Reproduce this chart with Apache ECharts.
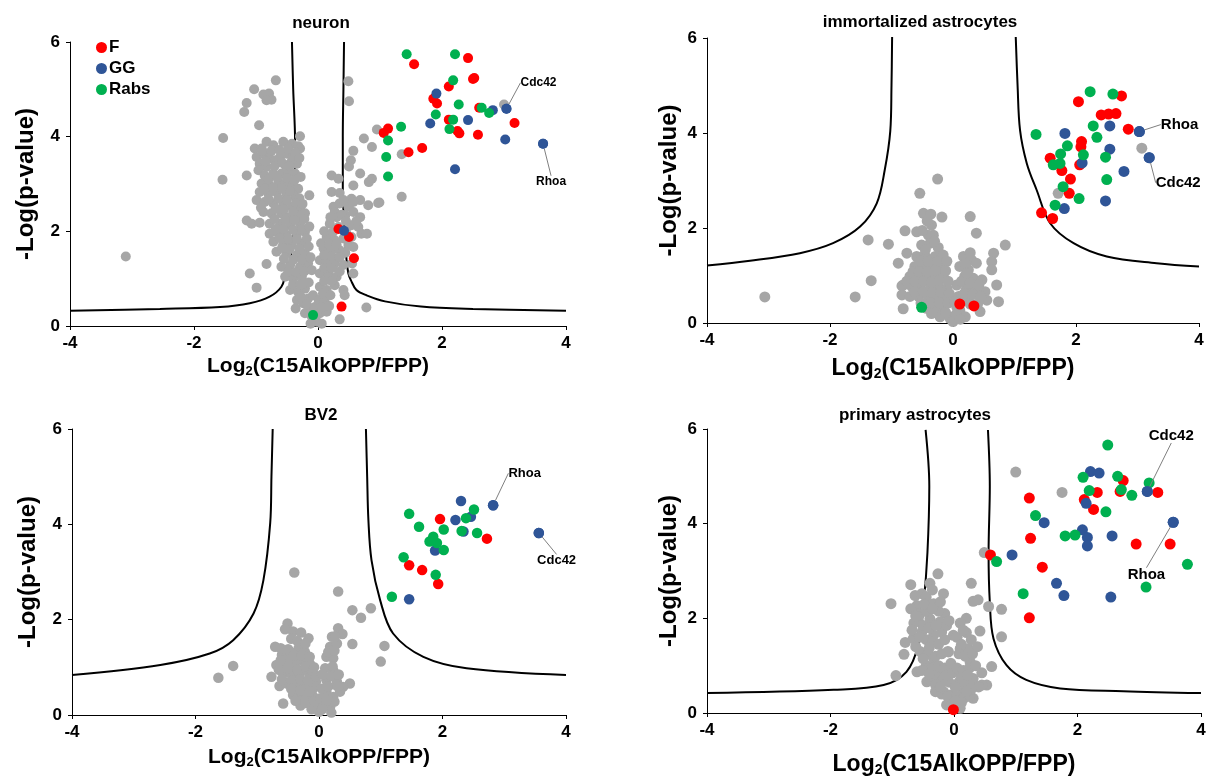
<!DOCTYPE html>
<html>
<head>
<meta charset="utf-8">
<title>C15AlkOPP volcano plots</title>
<script src="https://cdn.jsdelivr.net/npm/echarts@6/dist/echarts.min.js"></script>
<style>
  html, body { margin: 0; padding: 0; background: #fff; }
  #main { width: 1215px; height: 778px; }
</style>
</head>
<body>
<div id="main"></div>
<script>
// axis ticks
var xTicks = [-4, -2, 0, 2, 4];
var yTicks = [0, 2, 4, 6];
var groups = ['F', 'GG', 'Rabs'];
var titles = ['neuron', 'immortalized astrocytes', 'BV2', 'primary astrocytes'];

// ---------- neuron ----------
var neuronF = [[2.42,5.66],[1.55,5.53],[2.52,5.24],[2.50,5.22],[2.11,5.06],[1.86,4.80],[1.92,4.70],[2.11,4.36],[2.25,4.12],[2.28,4.07],[2.60,4.61],[2.58,4.04],[3.17,4.29],[1.13,4.17],[1.06,4.08],[1.68,3.76],[1.46,3.67],[0.33,2.05],[0.50,1.88],[0.58,1.43],[0.38,0.41]];
var neuronGG = [[1.91,4.91],[1.81,4.28],[2.42,4.35],[2.82,4.56],[3.04,4.59],[3.02,3.94],[2.21,3.31],[3.63,3.85],[0.42,2.01]];
var neuronRabs = [[1.43,5.74],[2.21,5.74],[2.18,5.19],[2.27,4.68],[1.90,4.47],[2.18,4.36],[2.12,4.16],[1.34,4.21],[1.13,3.92],[1.10,3.57],[1.13,3.16],[2.64,4.61],[2.76,4.50],[-0.08,0.23]];
var neuronGray = [
  [-0.68,5.19],[-1.03,5.0],[-0.88,4.89],[-0.79,4.91],[-0.75,4.78],[-0.83,4.77],[-1.15,4.71],[-1.19,4.52],[-0.95,4.24],[-1.53,3.97],[-1.54,3.09],[-3.1,1.47],[-1.15,3.18],[-0.29,4.01],[-0.14,2.76],
  [-1.10,1.11],[-0.99,0.81],[-0.83,1.31],[-1.15,2.23],[-1.07,2.16],[-0.94,2.18],[-0.36,0.37],
  [0.49,5.17],[0.50,4.75],[0.95,4.15],[0.74,3.96],[0.87,3.78],[0.57,3.70],[1.35,3.63],[1.35,2.73],[0.99,2.61],[3.0,4.68],[0.53,3.50],[0.50,3.37],[0.68,3.22],[0.87,3.11],[0.22,3.18],[0.33,3.11],[0.57,2.97],[0.22,2.83],[0.35,2.81],[0.97,2.60],[0.81,2.55],[0.68,2.66],[0.54,2.69],[0.70,1.95],[0.57,1.67],[0.57,1.11],[0.41,0.76],[0.43,0.65],[0.78,0.39],[0.35,0.14],[0.82,3.04],[0.79,1.95],[0.55,1.32],
  [-0.83,3.89],[-0.72,3.82],[-0.56,3.89],[-0.42,3.85],[-0.32,3.80],[-1.02,3.75],[-0.91,3.75],[-0.29,3.75],
  [-0.99,3.57],[-0.88,3.64],[-0.78,3.54],[-0.61,3.57],[-0.51,3.64],[-0.40,3.61],
  [-0.94,3.43],[-0.83,3.36],[-0.69,3.50],[-0.53,3.40],[-0.42,3.50],[-0.34,3.43],
  [-0.96,3.29],[-0.86,3.18],[-0.72,3.22],[-0.59,3.22],[-0.48,3.25],[-0.37,3.22],
  [-0.91,3.01],[-0.78,2.97],[-0.64,3.04],[-0.53,3.01],[-0.42,2.94],[-0.32,2.90],
  [-0.94,2.83],[-0.80,2.80],[-0.67,2.83],[-0.51,2.80],[-0.37,2.73],
  [-0.99,2.66],[-0.86,2.62],[-0.72,2.59],[-0.56,2.59],[-0.42,2.52],[-0.29,2.48],
  [-0.88,2.41],[-0.75,2.38],[-0.59,2.38],[-0.48,2.30],[-0.32,2.34],[-0.21,2.38],
  [-0.78,2.16],[-0.61,2.16],[-0.45,2.13],[-0.29,2.16],
  [-0.78,1.95],[-0.64,1.95],[-0.51,1.92],[-0.34,1.95],[-0.21,1.99],
  [-0.72,1.78],[-0.56,1.74],[-0.42,1.71],[-0.26,1.74],
  [-0.67,1.57],[-0.51,1.53],[-0.34,1.50],[-0.21,1.53],
  [-0.59,1.25],[-0.45,1.29],[-0.29,1.25],[-0.16,1.32],
  [-0.53,1.04],[-0.40,1.00],[-0.26,1.04],
  [-0.45,0.76],[-0.32,0.72],[-0.21,0.79],
  [-0.34,0.55],[-0.24,0.48],[-0.16,0.58],
  [-0.21,0.27],[-0.10,0.20],[-0.02,0.09],[-0.13,0.37],[-0.08,0.27],
  [-0.90,3.70],[-0.75,3.70],[-0.62,3.72],[-0.48,3.75],[-0.36,3.66],[-0.85,3.48],[-0.70,3.38],[-0.58,3.45],[-0.46,3.38],[-0.30,3.55],
  [-0.80,3.10],[-0.66,3.14],[-0.50,3.12],[-0.38,3.08],[-0.28,3.15],[-0.86,2.90],[-0.72,2.92],[-0.58,2.90],[-0.45,2.85],[-0.30,2.70],
  [-0.92,2.50],[-0.80,2.68],[-0.64,2.70],[-0.50,2.66],[-0.35,2.60],[-0.68,2.48],[-0.55,2.46],[-0.40,2.42],[-0.25,2.58],
  [-0.70,2.26],[-0.53,2.24],[-0.38,2.24],[-0.22,2.26],[-0.68,2.05],[-0.56,2.05],[-0.40,2.03],[-0.26,2.05],[-0.14,2.10],
  [-0.62,1.86],[-0.48,1.84],[-0.34,1.84],[-0.18,1.85],[-0.58,1.65],[-0.46,1.62],[-0.30,1.63],[-0.15,1.68],
  [-0.55,1.42],[-0.40,1.40],[-0.26,1.40],[-0.12,1.45],[-0.48,1.15],[-0.35,1.14],[-0.22,1.15],[-0.10,1.18],
  [-0.40,0.88],[-0.28,0.88],[-0.15,0.92],[-0.08,0.65],[-0.28,0.62],[-0.18,0.45],[-0.05,0.40],[-0.12,0.05],
  [0.25,2.52],[0.35,2.59],[0.49,2.52],[0.57,2.62],[0.41,2.66],[0.27,2.41],
  [0.30,2.30],[0.44,2.34],[0.57,2.41],[0.68,2.30],
  [0.19,2.16],[0.33,2.09],[0.54,2.13],[0.65,2.09],
  [0.14,1.88],[0.27,1.81],[0.41,1.85],[0.54,1.88],
  [0.09,1.64],[0.22,1.60],[0.35,1.60],[0.49,1.71],
  [0.03,1.39],[0.14,1.36],[0.27,1.32],[0.41,1.29],
  [0.03,1.11],[0.17,1.07],[0.30,1.04],
  [0.03,0.83],[0.14,0.76],[0.27,0.86],
  [0.01,0.55],[0.11,0.51],[0.03,0.27],[0.14,0.30],[0.06,0.05],
  [0.20,2.30],[0.10,2.00],[0.24,1.98],[0.45,2.00],[0.05,1.75],[0.18,1.72],[0.30,1.72],[0.44,1.55],[0.10,1.50],[0.22,1.48],[0.35,1.45],
  [0.10,1.22],[0.22,1.22],[0.35,1.15],[0.10,0.95],[0.22,0.95],[0.08,0.68],[0.20,0.65],[0.07,0.40],[0.18,0.42],[0.38,2.35],[0.45,2.22],[0.62,2.22]
];
var neuronCurveL = [[-4,0.32],[-2.55,0.36],[-1.58,0.40],[-1.10,0.48],[-0.78,0.62],[-0.59,0.83],[-0.52,1.11],[-0.45,1.39],[-0.40,2.0],[-0.38,2.8],[-0.37,3.9],[-0.40,5.0],[-0.42,6.0]];
var neuronCurveR = [[0.42,6.0],[0.41,5.0],[0.40,4.0],[0.40,2.9],[0.43,2.0],[0.46,1.4],[0.49,1.11],[0.53,0.97],[0.62,0.76],[0.78,0.65],[1.08,0.52],[1.66,0.41],[2.5,0.36],[4,0.32]];
var neuronTags = [['Cdc42',3.04,4.59],['Rhoa',3.63,3.85]];

// ---------- immortalized astrocytes ----------
var imAstroF = [[2.04,4.66],[2.74,4.78],[2.41,4.38],[2.53,4.40],[2.65,4.41],[2.85,4.08],[2.09,3.82],[2.08,3.71],[1.58,3.47],[2.06,3.33],[1.77,3.21],[1.91,3.03],[1.89,2.73],[1.44,2.32],[1.62,2.20],[0.11,0.40],[0.34,0.36]];
var imAstroGG = [[2.55,4.15],[1.82,3.99],[3.03,4.03],[2.55,3.66],[2.10,3.37],[2.78,3.19],[3.19,3.48],[2.48,2.57],[1.81,2.41]];
var imAstroRabs = [[2.23,4.87],[2.60,4.82],[1.35,3.97],[2.28,4.15],[2.34,3.91],[1.86,3.73],[1.75,3.56],[1.63,3.33],[1.74,3.36],[2.12,3.54],[2.48,3.49],[2.50,3.02],[1.79,2.87],[2.05,2.62],[1.66,2.48],[-0.51,0.33]];
var imAstroGray = [
  [-0.25,3.03],[-0.54,2.73],[-0.48,2.31],[-0.36,2.29],[-0.18,2.23],[0.28,2.24],[-0.35,2.06],[-0.78,1.94],[-0.59,1.92],[-0.32,1.85],[-0.40,1.85],[0.38,1.89],[-1.38,1.75],[-1.05,1.66],[0.85,1.64],[-0.51,1.64],[-0.37,1.68],[-0.24,1.59],[-1.33,0.89],[-1.59,0.55],[-0.81,0.30],[0.66,1.47],[0.63,1.29],[0.63,1.12],[0.71,0.80],[0.74,0.45],[-0.75,1.47],[-0.89,1.26],[-0.83,0.78],[-0.83,0.59],
  [-0.59,1.40],[-0.46,1.43],[-0.29,1.40],[-0.16,1.43],[-0.62,1.19],[-0.48,1.19],[-0.35,1.19],[-0.21,1.22],[-0.70,0.98],[-0.56,0.98],[-0.43,0.98],[-0.29,1.01],[-0.16,1.01],[-0.81,0.80],[-0.67,0.77],[-0.54,0.77],[-0.37,0.73],[-0.24,0.80],[-0.10,0.73],[-0.70,0.56],[-0.56,0.56],[-0.40,0.56],[-0.27,0.52],[-0.13,0.56],[-0.43,0.31],[-0.29,0.31],[-0.16,0.31],[-0.21,0.13],[-0.05,0.10],[0.0,0.03],
  [0.17,1.40],[0.30,1.33],[0.38,1.26],[0.11,1.19],[0.25,1.12],[0.19,0.98],[0.33,0.94],[0.47,0.91],[0.06,0.80],[0.22,0.73],[0.38,0.69],[0.52,0.66],[0.09,0.56],[0.25,0.52],[0.55,0.48],[0.11,0.27],[0.44,0.24],[0.20,0.13],[0.06,0.34],
  [-0.52,1.30],[-0.40,1.30],[-0.25,1.30],[-0.10,1.30],[-0.65,1.08],[-0.55,1.08],[-0.42,1.08],[-0.28,1.10],[-0.12,1.10],[-0.75,0.88],[-0.62,0.88],[-0.48,0.88],[-0.35,0.86],[-0.22,0.90],[-0.08,0.88],
  [-0.62,0.66],[-0.48,0.66],[-0.33,0.64],[-0.20,0.65],[-0.06,0.62],[-0.52,0.42],[-0.36,0.43],[-0.22,0.42],[-0.08,0.42],[-0.35,0.20],[-0.12,0.22],[0.05,0.18],[0.12,0.08],
  [0.28,0.40],[0.40,0.40],[0.18,0.62],[0.32,0.60],[0.45,0.56],[0.14,0.88],[0.28,0.84],[0.42,0.80],[0.20,1.25],[0.28,1.48],[0.22,1.05],[0.03,0.45],[-0.45,1.55],[-0.30,1.72],[-0.50,1.95],[-0.42,2.15],
  [-3.06,0.55],[3.07,3.68],[1.71,2.73]
];
var imAstroCurveL = [[-4,1.21],[-3.30,1.31],[-2.49,1.47],[-1.95,1.68],[-1.51,2.03],[-1.24,2.52],[-1.11,3.22],[-1.02,4.04],[-1.0,5.0],[-0.99,6.03]];
var imAstroCurveR = [[1.02,6.03],[1.05,5.0],[1.09,4.06],[1.20,3.36],[1.36,2.80],[1.58,2.10],[1.96,1.68],[2.50,1.40],[3.31,1.26],[4.0,1.19]];
var imAstroTags = [['Rhoa',3.03,4.03],['Cdc42',3.19,3.48]];

// ---------- BV2 ----------
var bv2F = [[1.96,4.11],[2.72,3.70],[1.46,3.14],[1.67,3.04],[1.93,2.75]];
var bv2GG = [[2.30,4.49],[2.82,4.40],[2.21,4.09],[2.46,4.16],[2.34,3.85],[1.88,3.45],[3.56,3.82],[1.46,2.43]];
var bv2Rabs = [[1.46,4.22],[1.62,3.95],[2.02,3.89],[2.51,4.31],[2.38,4.13],[2.31,3.86],[2.56,3.82],[1.85,3.74],[1.79,3.64],[1.91,3.61],[2.02,3.46],[1.37,3.31],[1.89,2.94],[1.18,2.48]];
var bv2Gray = [
  [-0.40,2.99],[0.31,2.59],[0.54,2.20],[0.68,2.04],[0.84,2.24],[0.54,1.49],[1.06,1.45],[1.00,1.12],[-1.39,1.03],[-1.63,0.78],[-0.71,1.43],[-0.58,0.24],[-0.77,0.80],[-0.64,0.61],[0.50,0.66],
  [-0.51,1.92],[-0.55,1.80],[-0.42,1.75],[-0.29,1.73],[-0.17,1.61],[-0.60,1.26],[-0.47,1.33],[-0.33,1.40],[-0.23,1.33],[-0.69,1.05],[-0.55,1.08],[-0.42,1.12],[-0.28,1.15],[-0.15,1.08],[-0.58,0.87],[-0.44,0.84],[-0.31,0.87],[-0.15,0.84],[-0.52,0.66],[-0.36,0.63],[-0.23,0.59],[-0.09,0.56],[-0.42,0.42],[-0.28,0.38],[-0.15,0.31],[-0.06,0.17],[0.0,0.07],
  [-0.50,1.15],[-0.38,1.00],[-0.25,0.95],[-0.10,0.90],[-0.05,0.70],[-0.35,0.50],[-0.20,0.45],[-0.10,0.40],[-0.12,0.12],[-0.30,0.20],
  [-0.45,1.60],[-0.35,1.55],[-0.22,1.50],[-0.62,1.40],[-0.50,1.38],[-0.40,1.25],[-0.28,1.25],[-0.15,1.22],[-0.62,1.15],[-0.65,0.95],[-0.50,0.98],[-0.35,0.95],[-0.22,1.02],[-0.08,1.00],
  [-0.60,0.75],[-0.45,0.72],[-0.30,0.75],[-0.18,0.72],[-0.05,0.80],[-0.45,0.55],[-0.30,0.52],[-0.15,0.50],[-0.38,0.30],[-0.22,0.25],[-0.08,0.28],
  [0.31,1.82],[0.21,1.64],[0.18,1.43],[0.29,1.50],[0.12,1.22],[0.23,1.19],[0.10,0.98],[0.23,0.94],[0.12,0.73],[0.29,0.70],[0.39,0.59],[0.12,0.49],[0.23,0.38],[0.07,0.24],[0.18,0.17],[0.34,0.49],
  [0.05,0.55],[0.05,0.85],[0.15,0.60],[0.02,0.35],[0.20,0.05],[0.22,1.02],[0.15,1.32],[0.25,1.35],[0.20,0.82],[0.32,0.85],[0.30,0.60],[0.25,0.28],[0.12,0.30],[0.38,1.70],[0.26,1.65],[0.05,0.12]
];
var bv2CurveL = [[-4,0.84],[-2.57,1.05],[-1.77,1.29],[-1.39,1.57],[-1.06,2.13],[-0.90,2.83],[-0.79,4.03],[-0.77,5.0],[-0.75,6.0]];
var bv2CurveR = [[0.76,6.0],[0.78,5.0],[0.80,4.09],[0.85,3.25],[0.99,2.41],[1.20,1.71],[1.69,1.22],[2.39,0.98],[4.0,0.84]];
var bv2Tags = [['Rhoa',2.82,4.40],['Cdc42',3.56,3.82]];

// ---------- primary astrocytes ----------
var primaryF = [[2.74,4.91],[2.32,4.66],[2.69,4.68],[3.30,4.66],[2.11,4.51],[2.26,4.30],[1.22,4.54],[1.24,3.69],[2.95,3.57],[3.50,3.57],[0.59,3.34],[1.43,3.08],[1.22,2.01],[-0.01,0.07]];
var primaryGG = [[2.21,5.10],[2.35,5.07],[3.13,4.68],[2.14,4.43],[1.46,4.02],[3.55,4.03],[2.08,3.87],[2.16,3.71],[2.16,3.53],[2.56,3.74],[0.94,3.34],[1.66,2.74],[1.78,2.48],[2.54,2.45]];
var primaryRabs = [[2.49,5.66],[2.09,4.98],[2.65,5.00],[2.19,4.70],[2.71,4.72],[2.88,4.60],[3.16,4.86],[2.46,4.25],[1.32,4.17],[1.80,3.74],[1.96,3.76],[0.69,3.20],[1.12,2.52],[3.11,2.66],[3.78,3.14]];
var primaryGray = [
  [1.0,5.09],[1.75,4.66],[0.49,3.39],
  [0.28,2.74],[0.31,2.36],[0.39,2.39],[0.56,2.25],[0.77,2.19],[0.42,1.73],[0.77,1.61],[0.61,0.98],[0.53,0.59],[-0.17,2.52],[-0.15,2.10],
  [-0.26,2.94],[-0.70,2.71],[-0.39,2.74],[-0.63,2.48],[-0.52,2.52],[-1.02,2.31],[-0.60,2.27],[-0.33,2.31],[-0.58,1.96],[-0.39,1.99],[-0.23,1.92],[-0.79,1.49],[-0.81,1.24],[-0.66,1.57],[-0.52,1.71],[-0.33,1.64],[-0.20,1.71],[-0.94,0.79],[-0.60,0.87],[-0.44,0.66],[-0.33,1.15],[-0.23,0.87],[-0.17,0.45],[-0.12,0.17],
  [-0.12,1.85],[-0.01,1.64],[-0.09,1.29],[0.10,1.36],[0.23,1.36],[0.26,1.08],[0.10,0.87],[0.31,0.73],[0.45,0.59],[0.15,0.45],[-0.06,0.38],[0.31,0.31],
  [-0.55,2.10],[-0.45,2.15],[-0.25,2.15],[-0.50,1.85],[-0.40,1.80],[-0.30,1.85],[-0.45,1.55],[-0.35,1.50],[-0.25,1.45],[-0.15,1.55],[-0.55,1.30],[-0.42,1.25],[-0.30,1.20],[-0.20,1.25],[-0.10,1.30],[-0.45,1.00],[-0.35,0.95],[-0.25,1.00],[-0.15,0.95],[-0.05,1.05],[-0.38,0.70],[-0.28,0.75],[-0.18,0.70],[-0.08,0.65],[-0.30,0.45],[-0.20,0.40],[-0.10,0.35],[-0.05,0.15],[-0.65,1.90],[-0.70,2.20],[-0.45,2.45],
  [-0.48,2.30],[-0.62,2.05],[-0.35,2.20],[-0.22,2.35],[-0.68,1.75],[-0.56,1.60],[-0.62,1.40],[-0.50,1.15],[-0.40,1.38],[-0.52,0.90],[-0.40,0.82],[-0.30,0.60],[-0.22,0.55],[-0.12,0.80],[-0.02,0.85],[-0.08,1.95],[-0.35,2.60],
  [0.05,1.60],[0.12,1.45],[0.20,1.70],[0.08,1.25],[0.18,1.20],[0.30,1.25],[0.05,0.95],[0.15,0.90],[0.25,0.95],[0.35,1.00],[0.08,0.65],[0.18,0.60],[0.30,0.70],[0.40,0.55],[0.05,0.35],[0.15,0.30],[0.25,0.35],[0.10,0.10],[0.45,0.85],[0.20,2.00],[0.10,1.90],
  [0.02,0.55],[0.12,0.75],[0.22,0.80],[0.28,0.50],[0.20,0.45],[0.12,0.22],[0.02,0.25],[0.38,1.40],[0.28,1.55],[0.15,1.75]
];
var primaryCurveL = [[-4,0.42],[-1.95,0.49],[-1.14,0.59],[-0.77,0.87],[-0.58,1.43],[-0.49,2.34],[-0.43,3.39],[-0.40,4.79],[-0.46,5.98]];
var primaryCurveR = [[0.55,5.98],[0.58,4.79],[0.56,3.39],[0.58,2.34],[0.64,1.57],[0.85,1.01],[1.17,0.70],[1.72,0.52],[2.74,0.46],[4.0,0.42]];
var primaryTags = [['Cdc42',3.13,4.68],['Rhoa',3.55,4.03]];

var colors = { F: '#FF0000', GG: '#2F5597', Rabs: '#00B050', gray: '#A6A6A6' };
var font = 'Liberation Sans, Arial, Helvetica, sans-serif';

// layout of the four panels (pixels)
var panels = [
  { grid: {left: 70, top: 42, width: 496, height: 284}, title: [316, 10, 17],
    gray: neuronGray, F: neuronF, GG: neuronGG, Rabs: neuronRabs, curves: [neuronCurveL, neuronCurveR],
    tags: neuronTags, offs: {Cdc42: [4, -26], Rhoa: [-17, 38]}, size: 10, tagFont: 12,
    xName: 21, xGap: 28, yName: 24, yGap: 32 },
  { grid: {left: 707, top: 38, width: 492, height: 285}, title: [915, 9, 17],
    gray: imAstroGray, F: imAstroF, GG: imAstroGG, Rabs: imAstroRabs, curves: [imAstroCurveL, imAstroCurveR],
    tags: imAstroTags, offs: {Rhoa: [11, -7], Cdc42: [-4, 25]}, size: 11, tagFont: 15,
    xName: 23, xGap: 34, yName: 24, yGap: 26 },
  { grid: {left: 72, top: 429, width: 494, height: 286}, title: [316, 402, 17],
    gray: bv2Gray, F: bv2F, GG: bv2GG, Rabs: bv2Rabs, curves: [bv2CurveL, bv2CurveR],
    tags: bv2Tags, offs: {Rhoa: [5, -32], Cdc42: [-12, 28]}, size: 10.5, tagFont: 13,
    xName: 21, xGap: 30, yName: 24, yGap: 32 },
  { grid: {left: 707, top: 429, width: 494, height: 286}, title: [910, 402, 17],
    gray: primaryGray, F: primaryF, GG: primaryGG, Rabs: primaryRabs, curves: [primaryCurveL, primaryCurveR],
    tags: primaryTags, offs: {Cdc42: [-9, -56], Rhoa: [-56, 53]}, size: 11, tagFont: 15,
    xName: 23, xGap: 40, yName: 24, yGap: 26 }
];

var option = {
  animation: false,
  backgroundColor: '#fff',
  textStyle: { fontFamily: font },
  title: [],
  legend: {
    data: groups,
    orient: 'vertical',
    left: 91,
    top: 34,
    itemGap: 4,
    itemWidth: 11,
    itemHeight: 11,
    icon: 'circle',
    textStyle: { fontSize: 17, fontWeight: 'bold', color: '#000', fontFamily: font, padding: [0, 0, 0, -3] }
  },
  grid: [],
  xAxis: [],
  yAxis: [],
  series: []
};

panels.forEach(function (p, i) {
  option.title.push({
    text: titles[i],
    left: p.title[0],
    top: p.title[1],
    textAlign: 'center',
    textStyle: { fontSize: p.title[2], fontWeight: 'bold', color: '#000', fontFamily: font }
  });
  option.grid.push(p.grid);
  option.xAxis.push({
    gridIndex: i,
    type: 'value',
    min: xTicks[0],
    max: xTicks[xTicks.length - 1],
    interval: xTicks[1] - xTicks[0],
    name: '{m|Log}{s|2}{m|(C15AlkOPP/FPP)}',
    nameLocation: 'middle',
    nameGap: p.xGap,
    nameTextStyle: {
      rich: {
        m: { fontSize: p.xName, fontWeight: 'bold', color: '#000', fontFamily: font, lineHeight: 24, verticalAlign: 'middle' },
        s: { fontSize: Math.round(p.xName * 0.62), fontWeight: 'bold', color: '#000', fontFamily: font, lineHeight: 18, verticalAlign: 'bottom' }
      }
    },
    axisLine: { onZero: false, lineStyle: { color: '#000', width: 1 } },
    axisTick: { show: true, length: 4, lineStyle: { color: '#000' } },
    splitLine: { show: false },
    axisLabel: { fontSize: 17, fontWeight: 'bold', color: '#000', fontFamily: font, margin: 9 }
  });
  option.yAxis.push({
    gridIndex: i,
    type: 'value',
    min: yTicks[0],
    max: yTicks[yTicks.length - 1],
    interval: yTicks[1] - yTicks[0],
    name: '-Log(p-value)',
    nameLocation: 'middle',
    nameGap: p.yGap,
    nameTextStyle: { fontSize: p.yName, fontWeight: 'bold', color: '#000', fontFamily: font },
    axisLine: { show: true, onZero: false, lineStyle: { color: '#000', width: 1 } },
    axisTick: { show: true, length: 4, lineStyle: { color: '#000' } },
    splitLine: { show: false },
    axisLabel: { fontSize: 17, fontWeight: 'bold', color: '#000', fontFamily: font, margin: 10 }
  });

  // significance curves
  p.curves.forEach(function (c) {
    option.series.push({
      type: 'line',
      xAxisIndex: i,
      yAxisIndex: i,
      data: c,
      showSymbol: false,
      smooth: 0.35,
      silent: true,
      lineStyle: { color: '#000', width: 2 },
      z: 1
    });
  });

  option.series.push({
    type: 'scatter',
    name: 'other',
    xAxisIndex: i,
    yAxisIndex: i,
    data: p.gray,
    symbolSize: p.size,
    itemStyle: { color: colors.gray, opacity: 1 },
    z: 2
  });

  groups.forEach(function (g) {
    option.series.push({
      type: 'scatter',
      name: g,
      xAxisIndex: i,
      yAxisIndex: i,
      data: p[g],
      symbolSize: p.size,
      itemStyle: { color: colors[g], opacity: 1 },
      z: 3
    });
  });

  // named proteins with guide lines
  var offs = p.offs;
  option.series.push({
    type: 'scatter',
    name: 'GG',
    xAxisIndex: i,
    yAxisIndex: i,
    data: p.tags.map(function (t) { return { name: t[0], value: [t[1], t[2]] }; }),
    symbolSize: p.size,
    itemStyle: { color: colors.GG, opacity: 1 },
    label: {
      show: true,
      position: 'right',
      distance: 5,
      formatter: '{b}',
      fontSize: p.tagFont,
      fontWeight: 'bold',
      color: '#000',
      fontFamily: font
    },
    labelLine: { show: true, lineStyle: { color: '#808080', width: 1 } },
    labelLayout: function (params) {
      var o = offs[params.text];
      return o ? { dx: o[0], dy: o[1] } : {};
    },
    z: 4
  });
});

var myChart = echarts.init(document.getElementById('main'));
myChart.setOption(option);
</script>
</body>
</html>
